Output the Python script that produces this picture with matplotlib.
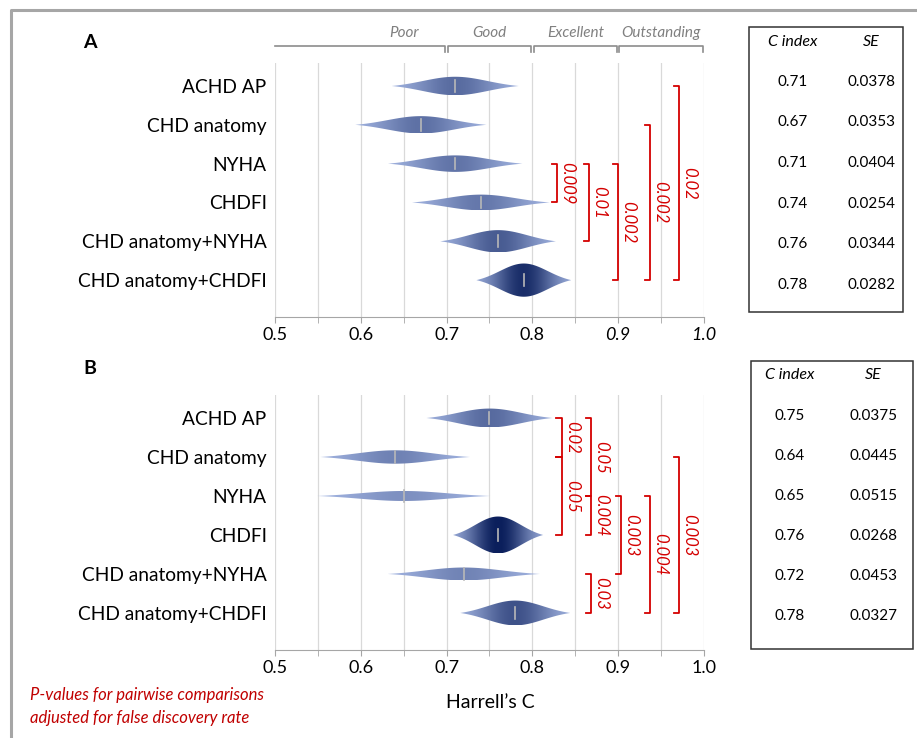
import matplotlib.pyplot as plt
import numpy as np
from matplotlib.colors import LinearSegmentedColormap
from matplotlib.lines import Line2D
from matplotlib.patches import Polygon, Rectangle

plt.rcParams["font.family"] = ["Lato", "DejaVu Sans"]

# ------------------------------------------------------------
# Data
# ------------------------------------------------------------
models = [
    "ACHD AP",
    "CHD anatomy",
    "NYHA",
    "CHDFI",
    "CHD anatomy+NYHA",
    "CHD anatomy+CHDFI",
]

# values printed in the side tables
cindex_a = ["0.71", "0.67", "0.71", "0.74", "0.76", "0.78"]
se_a = ["0.0378", "0.0353", "0.0404", "0.0254", "0.0344", "0.0282"]
cindex_b = ["0.75", "0.64", "0.65", "0.76", "0.72", "0.78"]
se_b = ["0.0375", "0.0445", "0.0515", "0.0268", "0.0453", "0.0327"]

# lens shapes as drawn (centre, spread)
lens_c_a = [0.71, 0.67, 0.71, 0.74, 0.76, 0.79]
lens_se_a = [0.0378, 0.039, 0.040, 0.041, 0.0344, 0.0282]
lens_c_b = [0.75, 0.64, 0.65, 0.76, 0.72, 0.78]
lens_se_b = [0.0375, 0.0445, 0.0515, 0.0268, 0.0453, 0.0327]

# pairwise comparisons: (row, row, adjusted p)
pairs_a = [(2, 3, "0.009"), (2, 4, "0.01"), (2, 5, "0.002"),
           (1, 5, "0.002"), (0, 5, "0.02")]
pairs_b = [(0, 1, "0.02"), (1, 3, "0.05"), (0, 2, "0.05"), (2, 3, "0.004"),
           (4, 5, "0.03"), (2, 4, "0.003"), (2, 5, "0.004"), (1, 5, "0.003")]

bands = ["Poor", "Good", "Excellent", "Outstanding"]
band_edges = [0.5, 0.7, 0.8, 0.9, 1.0]

# bracket columns (layout)
bracket_x_a = [0.829, 0.866, 0.900, 0.937, 0.971]
bracket_x_b = [0.834, 0.834, 0.868, 0.868, 0.868, 0.903, 0.937, 0.971]

RED = "#d40000"
W, H = 917, 738
Z = 1.96
FLOOR = np.exp(-Z ** 2 / 2)
K_HEIGHT = 3.4e-4
SE_REF = 0.0268

lens_cmap = LinearSegmentedColormap.from_list(
    "lens", ["#a8bae6", "#0b1f5c"]
)


def fx(px):
    return px / W


def fy(py):
    return 1 - py / H


def draw_lens(ax, y, c, s):
    x = np.linspace(c - Z * s, c + Z * s, 300)
    z = (x - c) / s
    g = (np.exp(-z ** 2 / 2) - FLOOR) / (1 - FLOOR)
    h = K_HEIGHT / s ** 2 * g
    verts = np.column_stack([np.r_[x, x[::-1]], np.r_[y - h, (y + h)[::-1]]])
    poly = Polygon(verts, closed=True, facecolor="none", edgecolor="none")
    ax.add_patch(poly)
    shade = (SE_REF / s) ** 2 * np.exp(-z ** 2 / 2)
    hm = h.max()
    img = ax.imshow(
        shade[np.newaxis, :], cmap=lens_cmap, vmin=0, vmax=1,
        extent=[x[0], x[-1], y + hm, y - hm], aspect="auto",
        interpolation="bilinear", zorder=3,
    )
    img.set_clip_path(poly)
    ax.plot([c, c], [y - 0.15, y + 0.15], color="#b8b8b8", lw=1.2, zorder=4)


def setup_axes(ax, italic_hi=False):
    ax.set_xlim(0.5, 1.0)
    ax.set_ylim(5.95, -0.6)
    for v in np.arange(0.5, 1.001, 0.05):
        ax.axvline(v, color="#d9d9d9", lw=0.9, zorder=0)
    for side in ["top", "right", "left"]:
        ax.spines[side].set_visible(False)
    ax.spines["bottom"].set_color("#a6a6a6")
    ax.set_xticks(np.arange(0.5, 1.001, 0.1))
    ax.set_xticks(np.arange(0.55, 1.0, 0.1), minor=True)
    ax.set_xticklabels(["0.5", "0.6", "0.7", "0.8", "0.9", "1.0"], fontsize=13)
    ax.tick_params(axis="x", which="both", length=4, color="#a6a6a6", pad=3)
    ax.set_yticks(range(len(models)))
    ax.set_yticklabels(models, fontsize=13.8)
    ax.tick_params(axis="y", length=0, pad=6)
    if italic_hi:
        for lab in ax.get_xticklabels()[4:]:
            lab.set_style("italic")


def draw_pairs(ax, pairs, xs):
    hook = 0.006
    for (i, j, p), bx in zip(pairs, xs):
        ax.plot([bx - hook, bx, bx, bx - hook], [i, i, j, j],
                color=RED, lw=1.3, clip_on=False, zorder=5)
        ax.text(bx + 0.012, (i + j) / 2, p, rotation=270, color=RED,
                style="italic", fontsize=12, ha="center", va="center",
                rotation_mode="anchor")


def draw_table(fig, box, header_y, first_y, step, cx, sx, cvals, svals):
    x0, y0, x1, y1 = box
    fig.add_artist(Rectangle((fx(x0), fy(y1)), fx(x1) - fx(x0),
                             fy(y0) - fy(y1), transform=fig.transFigure,
                             facecolor="none", edgecolor="#333333", lw=1.1))
    fig.text(fx(cx), fy(header_y), "C index", style="italic", fontsize=11.5,
             ha="center", va="center")
    fig.text(fx(sx), fy(header_y), "SE", style="italic", fontsize=11.5,
             ha="center", va="center")
    for k, (cv, sv) in enumerate(zip(cvals, svals)):
        y = first_y + step * k
        fig.text(fx(cx), fy(y), cv, fontsize=11, ha="center", va="center")
        fig.text(fx(sx), fy(y), sv, fontsize=11, ha="center", va="center")


fig = plt.figure(figsize=(W / 100, H / 100), dpi=100)

ax_a = fig.add_axes([0.29989, 0.57046, 0.46783, 0.34458])
ax_b = fig.add_axes([0.29989, 0.11924, 0.46783, 0.34607])

setup_axes(ax_a, italic_hi=True)
setup_axes(ax_b)

for i, (c, s) in enumerate(zip(lens_c_a, lens_se_a)):
    draw_lens(ax_a, i, c, s)
for i, (c, s) in enumerate(zip(lens_c_b, lens_se_b)):
    draw_lens(ax_b, i, c, s)

for ax in (ax_a, ax_b):
    ax.set_xlim(0.5, 1.0)
    ax.set_ylim(5.95, -0.6)

draw_pairs(ax_a, pairs_a, bracket_x_a)
draw_pairs(ax_b, pairs_b, bracket_x_b)

# performance bands above panel A
for k, name in enumerate(bands):
    lo = band_edges[k] + (0.0015 if k > 0 else 0)
    hi = band_edges[k + 1] - 0.0015
    xs = [lo, lo, hi, hi] if k > 0 else [lo, hi, hi]
    ys = [-0.876, -1.03, -1.03, -0.876] if k > 0 else [-1.03, -1.03, -0.876]
    ax_a.plot(xs, ys, color="#8c8c8c", lw=1.2, clip_on=False)
    ax_a.text(band_edges[k + 1] - 0.05, -1.37, name, style="italic",
              fontsize=11, color="#808080", ha="center", va="center")

draw_table(fig, (749, 27, 903, 312), 42, 82, 40.5, 793, 871, cindex_a, se_a)
draw_table(fig, (751, 361, 913, 649), 375, 416, 40, 790, 873, cindex_b, se_b)

fig.text(fx(90), fy(42), "A", fontsize=14, fontweight="bold",
         ha="center", va="center")
fig.text(fx(90), fy(368), "B", fontsize=14, fontweight="bold",
         ha="center", va="center")

fig.text(fx(490), fy(703), "Harrell\u2019s C", fontsize=14,
         ha="center", va="center")
fig.text(fx(30), fy(695), "P-values for pairwise comparisons",
         fontsize=12, style="italic", color="#c00000", va="center")
fig.text(fx(30), fy(718), "adjusted for false discovery rate",
         fontsize=12, style="italic", color="#c00000", va="center")

# grey frame on the top and left edge
fig.add_artist(Line2D([fx(11), fx(11), 1], [0, fy(10), fy(10)],
                      transform=fig.transFigure, color="#a6a6a6", lw=2.2))

fig.savefig("out.png", dpi=100)
plt.close(fig)
